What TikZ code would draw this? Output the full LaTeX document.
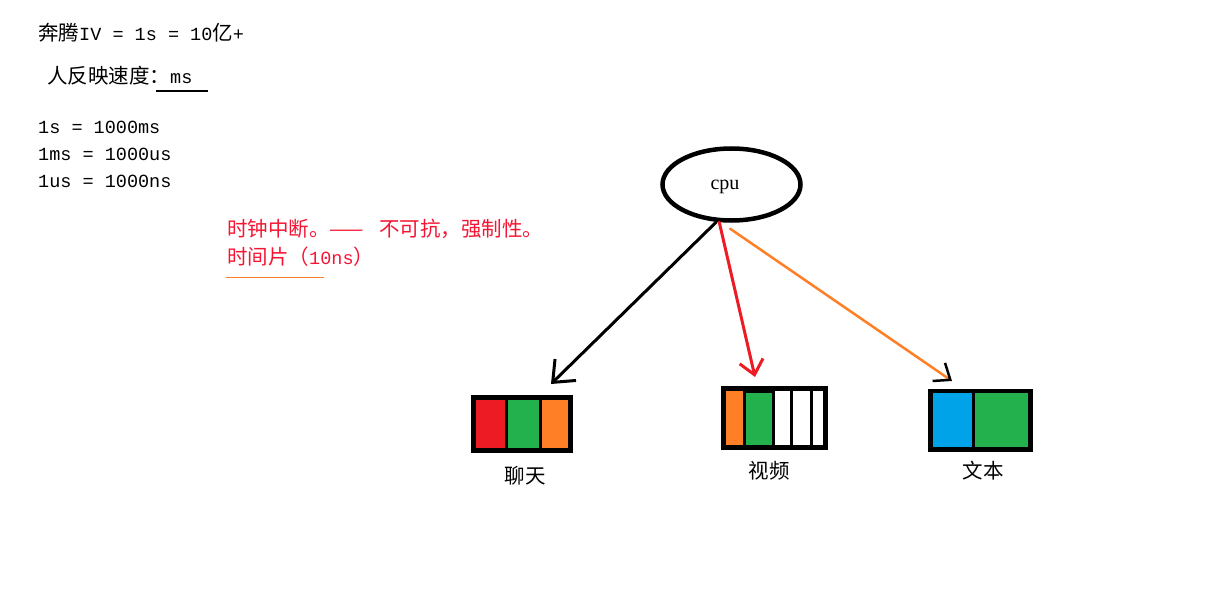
\documentclass[tikz,border=0pt]{standalone}
\usepackage{fontspec}
\usepackage{tikz}
\usetikzlibrary{shapes.geometric,arrows.meta}
\newfontfamily\zhfont{Noto Sans CJK SC}
\newfontfamily\latmono{Liberation Mono}
\newfontfamily\cpuserif{Liberation Serif}
\newcommand\zhtxt[1]{{\zhfont\fontsize{20.5}{24}\selectfont #1}}
\newcommand\entxt[1]{{\latmono\fontsize{18.5}{24}\selectfont #1}}
\definecolor{pred}{RGB}{237,28,36}
\definecolor{pgreen}{RGB}{34,177,76}
\definecolor{porange}{RGB}{255,127,39}
\definecolor{pblue}{RGB}{0,162,232}
\definecolor{ptext}{RGB}{245,20,50}
\tikzstyle{note} = [anchor=west, inner sep=0pt]
\tikzstyle{frame} = [rectangle, fill=black, inner sep=0pt]
\tikzstyle{line} = [draw, line width=3pt, line cap=round]

\begin{document}
\begin{tikzpicture}[x=1pt, y=-1pt]
    \useasboundingbox (0,0) rectangle (1210,607);
    % notes on the left
    \node [note] (pentium) at (38,33) {\zhtxt{奔腾}\entxt{IV = 1s = 10}\zhtxt{亿}\entxt{+}};
    \node [note] (speed) at (47,76) {\zhtxt{人反映速度：}\entxt{ms}};
    \draw [line width=2.3pt] (156,91) -- (208,91);
    \node [note] (sec) at (38,127) {\entxt{1s = 1000ms}};
    \node [note] (msec) at (38,154) {\entxt{1ms = 1000us}};
    \node [note] (usec) at (38,181) {\entxt{1us = 1000ns}};
    \node [note, text=ptext] (clock) at (227,229) {\zhtxt{时钟中断。——}\hspace{15pt}\zhtxt{不可抗，强制性。}};
    \node [note, text=ptext] (slice) at (227,257) {\zhtxt{时间片（}\entxt{10ns}\zhtxt{）}};
    \draw [porange, line width=1pt] (226,277) -- (324,277);
    % cpu
    \node [draw, ellipse, line width=4.5pt, minimum width=138pt, minimum height=72pt, inner sep=0pt] (cpu) at (731.5,184.5) {};
    \node [inner sep=0pt] (cpulabel) at (725,187) {\cpuserif\fontsize{20}{24}\selectfont cpu};
    % tasks
    \node [frame, minimum width=102pt, minimum height=58pt] (chat) at (522,424) {};
    \fill [pred] (476,400) rectangle (505,448);
    \fill [pgreen] (508,400) rectangle (539,448);
    \fill [porange] (542,400) rectangle (568,448);
    \node [frame, minimum width=107pt, minimum height=64pt] (video) at (774.5,418) {};
    \fill [porange] (726,391) rectangle (743,445);
    \fill [pgreen] (746,393) rectangle (772,445);
    \foreach \a/\b in {775/790,793/810,813/823}
        \fill [white] (\a,391) rectangle (\b,445);
    \node [frame, minimum width=105pt, minimum height=63pt] (doc) at (980.5,420.5) {};
    \fill [pblue] (933,393) rectangle (972,447);
    \fill [pgreen] (975,393) rectangle (1028,447);
    \node (chatname) at (525,476) {\zhtxt{聊天}};
    \node (videoname) at (769,471) {\zhtxt{视频}};
    \node (docname) at (983,471) {\zhtxt{文本}};
    % arrows
    \coordinate (chattip) at (551,384);
    \coordinate (videotip) at (755,377);
    \coordinate (doctip) at (952,381);
    \path [line, -{Straight Barb[length=18pt, width=30pt]}] (cpu.248) -- (chattip);
    \path [line, pred, -{Straight Barb[length=14pt, width=24pt]}] (cpu.252) -- (videotip);
    \path [line, porange, line width=2.5pt, -{Straight Barb[black, length=14pt, width=22pt]}] ([yshift=-6pt]cpu.268) -- (doctip);
\end{tikzpicture}
\end{document}
